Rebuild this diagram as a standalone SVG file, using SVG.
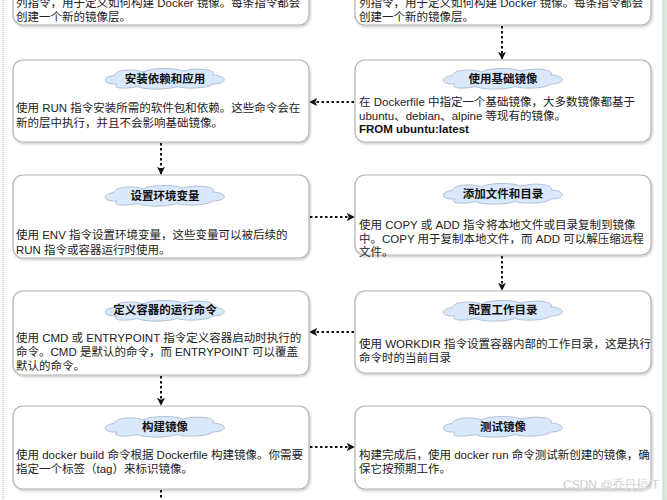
<svg xmlns="http://www.w3.org/2000/svg" width="667" height="500" viewBox="0 0 667 500">
<style>
.box{fill:#fff;stroke:#b3b3b3;stroke-width:1.2;filter:url(#sh)}
.cloud{fill:#dae8fc;stroke:#9fb3cc;stroke-width:0.8}
.t{font-family:"Liberation Sans","Noto Sans CJK SC",sans-serif;font-size:11.5px;fill:#222}
.title{font-family:"Liberation Sans","Noto Sans CJK SC",sans-serif;font-size:11.5px;font-weight:bold;fill:#111;text-anchor:middle}
.b{font-weight:bold;fill:#111}
.con{fill:none;stroke:#111;stroke-width:2;stroke-dasharray:2.5 2.5}
</style>
<defs>
<filter id="sh" x="-5%" y="-10%" width="110%" height="125%">
<feDropShadow dx="1" dy="1.5" stdDeviation="1.2" flood-color="#000" flood-opacity="0.22"/>
</filter>
<marker id="arr" viewBox="0 0 10 10" refX="9" refY="5" markerWidth="4" markerHeight="4" orient="auto" markerUnits="strokeWidth">
<path d="M0,0 L10,5 L0,10 L2.5,5 Z" fill="#111"/>
</marker>
<path id="cl" d="M18,16 C4,17 2,9 15,7.5 C16,2 34,0 44,4 C52,-0.5 76,-0.5 84,3 C96,-0.5 118,1 114,7 C130,8 128,16 114,16 C108,21 84,21 78,18.5 C68,22 46,22 38,18.5 C28,21 12,21 18,16 Z"/>
</defs>
<rect width="667" height="500" fill="#fff"/>
<line x1="3" y1="0" x2="3" y2="500" stroke="#c8c8c8" stroke-width="1.5" stroke-dasharray="1 1"/>
<rect x="662" y="0" width="5" height="500" fill="#dce9df"/>
<line x1="664" y1="0" x2="664" y2="500" stroke="#b8c2ba" stroke-width="1" stroke-dasharray="1 1"/>

<g id="node-top-left">
<rect class="box" x="13" y="-60" width="296" height="85" rx="10"/>
<text class="t" x="16" y="7">列指令，用于定义如何构建 Docker 镜像。每条指令都会</text>
<text class="t" x="16" y="21">创建一个新的镜像层。</text>
</g>
<g id="node-top-right">
<rect class="box" x="355" y="-60" width="296" height="85" rx="10"/>
<text class="t" x="359" y="7">列指令，用于定义如何构建 Docker 镜像。每条指令都会</text>
<text class="t" x="359" y="21">创建一个新的镜像层。</text>
</g>

<g id="node-install">
<rect class="box" x="13" y="60" width="296" height="82" rx="10"/>
<use href="#cl" class="cloud" transform="translate(99,68)"/>
<text class="title" x="165" y="83">安装依赖和应用</text>
<text class="t" x="16" y="112">使用 RUN 指令安装所需的软件包和依赖。这些命令会在</text>
<text class="t" x="16" y="127">新的层中执行，并且不会影响基础镜像。</text>
</g>
<g id="node-base">
<rect class="box" x="355" y="60" width="296" height="82" rx="10"/>
<use href="#cl" class="cloud" transform="translate(437,68)"/>
<text class="title" x="503" y="83">使用基础镜像</text>
<text class="t" x="359" y="106">在 Dockerfile 中指定一个基础镜像，大多数镜像都基于</text>
<text class="t" x="359" y="119.5">ubuntu、debian、alpine 等现有的镜像。</text>
<text class="t b" x="359" y="133">FROM ubuntu:latest</text>
</g>

<g id="node-env">
<rect class="box" x="13" y="175" width="296" height="83" rx="10"/>
<use href="#cl" class="cloud" transform="translate(99,185)"/>
<text class="title" x="165" y="200">设置环境变量</text>
<text class="t" x="16" y="239">使用 ENV 指令设置环境变量，这些变量可以被后续的</text>
<text class="t" x="16" y="254">RUN 指令或容器运行时使用。</text>
</g>
<g id="node-copy">
<rect class="box" x="355" y="175" width="296" height="80" rx="10"/>
<use href="#cl" class="cloud" transform="translate(437,183)"/>
<text class="title" x="503" y="198">添加文件和目录</text>
<text class="t" x="359" y="229">使用 COPY 或 ADD 指令将本地文件或目录复制到镜像</text>
<text class="t" x="359" y="242.5">中。COPY 用于复制本地文件，而 ADD 可以解压缩远程</text>
<text class="t" x="359" y="256">文件。</text>
</g>

<g id="node-cmd">
<rect class="box" x="13" y="291" width="296" height="84" rx="10"/>
<use href="#cl" class="cloud" transform="translate(99,300)"/>
<text class="title" x="165" y="314">定义容器的运行命令</text>
<text class="t" x="16" y="342">使用 CMD 或 ENTRYPOINT 指令定义容器启动时执行的</text>
<text class="t" x="16" y="356">命令。CMD 是默认的命令，而 ENTRYPOINT 可以覆盖</text>
<text class="t" x="16" y="370">默认的命令。</text>
</g>
<g id="node-workdir">
<rect class="box" x="355" y="291" width="296" height="82" rx="10"/>
<use href="#cl" class="cloud" transform="translate(437,300)"/>
<text class="title" x="503" y="314">配置工作目录</text>
<text class="t" x="359" y="348">使用 WORKDIR 指令设置容器内部的工作目录，这是执行</text>
<text class="t" x="359" y="362">命令时的当前目录</text>
</g>

<g id="node-build">
<rect class="box" x="13" y="406" width="296" height="83" rx="10"/>
<use href="#cl" class="cloud" transform="translate(99,416)"/>
<text class="title" x="165" y="431">构建镜像</text>
<text class="t" x="16" y="459">使用 docker build 命令根据 Dockerfile 构建镜像。你需要</text>
<text class="t" x="16" y="473">指定一个标签（tag）来标识镜像。</text>
</g>
<g id="node-test">
<rect class="box" x="355" y="406" width="296" height="83" rx="10"/>
<use href="#cl" class="cloud" transform="translate(437,416)"/>
<text class="title" x="503" y="431">测试镜像</text>
<text class="t" x="359" y="459">构建完成后，使用 docker run 命令测试新创建的镜像，确</text>
<text class="t" x="359" y="473">保它按预期工作。</text>
</g>

<g id="connectors">
<line class="con" x1="502" y1="26" x2="502" y2="59" marker-end="url(#arr)"/>
<line class="con" x1="354" y1="102" x2="310" y2="102" marker-end="url(#arr)"/>
<line class="con" x1="161" y1="143" x2="161" y2="174" marker-end="url(#arr)"/>
<line class="con" x1="310" y1="217" x2="354" y2="217" marker-end="url(#arr)"/>
<line class="con" x1="502" y1="256" x2="502" y2="290" marker-end="url(#arr)"/>
<line class="con" x1="354" y1="332" x2="310" y2="332" marker-end="url(#arr)"/>
<line class="con" x1="161" y1="376" x2="161" y2="405" marker-end="url(#arr)"/>
<line class="con" x1="310" y1="447" x2="354" y2="447" marker-end="url(#arr)"/>
<line class="con" x1="161" y1="490" x2="161" y2="500"/>
</g>
<text x="563" y="489" font-family="Liberation Sans,Noto Sans CJK SC,sans-serif" font-size="12" fill="#b0b0b0" stroke="#fff" stroke-width="0.3">CSDN @乔丹搞IT</text>
</svg>
